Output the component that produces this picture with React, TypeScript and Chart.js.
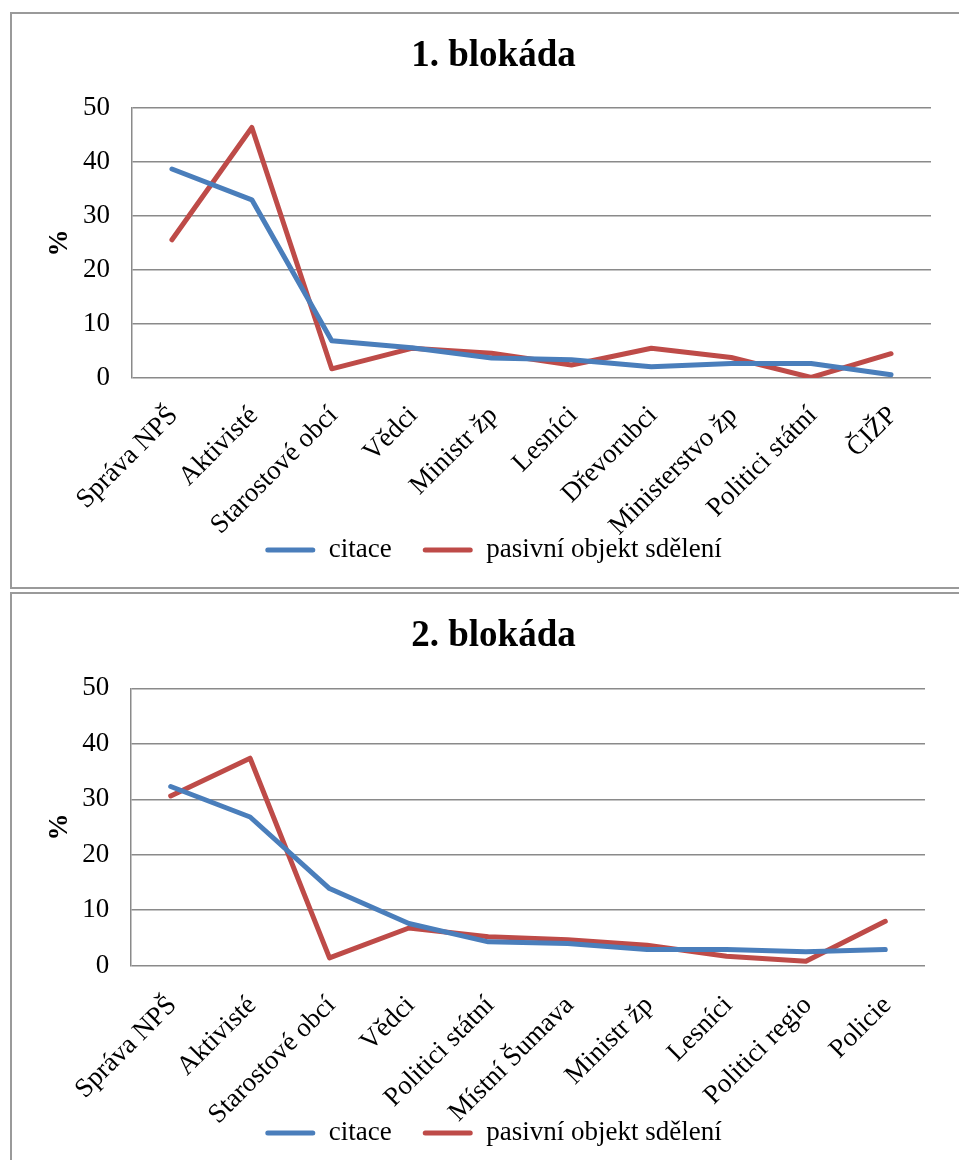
import React, { useEffect, useRef } from "react";
import { Chart, registerables } from "chart.js";

Chart.register(...registerables);

const categories1 = ["Správa NPŠ", "Aktivisté", "Starostové obcí", "Vědci", "Ministr žp", "Lesníci", "Dřevorubci", "Ministerstvo žp", "Politici státní", "ČIŽP"];
const citace1 = [38.7, 33.0, 6.9, 5.6, 3.7, 3.4, 2.1, 2.7, 2.7, 0.6];
const pasivni1 = [25.6, 46.4, 1.7, 5.5, 4.6, 2.4, 5.5, 3.8, 0.1, 4.5];

const categories2 = ["Správa NPŠ", "Aktivisté", "Starostové obcí", "Vědci", "Politici státní", "Místní Šumava", "Ministr žp", "Lesníci", "Politici regio", "Policie"];
const citace2 = [32.3, 26.8, 13.9, 7.6, 4.3, 4.0, 2.9, 2.9, 2.5, 2.9];
const pasivni2 = [30.6, 37.4, 1.4, 6.8, 5.2, 4.7, 3.7, 1.7, 0.8, 8.0];

const yTicks = [0, 10, 20, 30, 40, 50];
const seriesNames = ["citace", "pasivní objekt sdělení"];

const FONT = "'Liberation Serif', 'Times New Roman', serif";
const BLUE = "#4A7EBB";
const RED = "#BE4B48";
const GRID = "#8a8a8a";
const FS = 27;

type Layout = {
  width: number;
  height: number;
  padL: number;
  padR: number;
  padB: number;
  titlePadTop: number;
  titlePadBottom: number;
  yWidth: number;
  yTitlePad: number;
  yTickPad: number;
  xHeight: number;
  xPad: number;
  xOffset: number;
};

function makeConfig(title: string, cats: string[], a: number[], b: number[], L: Layout): any {
  const line = (label: string, data: number[], color: string) => ({
    label,
    data,
    borderColor: color,
    backgroundColor: color,
    borderWidth: 5,
    pointRadius: 0,
    pointHoverRadius: 0,
    tension: 0,
    borderCapStyle: "round",
    borderJoinStyle: "round",
  });
  return {
    type: "line",
    data: {
      labels: cats,
      datasets: [line(seriesNames[0], a, BLUE), line(seriesNames[1], b, RED)],
    },
    options: {
      animation: false,
      responsive: false,
      maintainAspectRatio: false,
      events: [],
      layout: { padding: { left: L.padL, right: L.padR, top: 0, bottom: L.padB } },
      plugins: {
        title: {
          display: true,
          text: title,
          color: "#000",
          font: { family: FONT, size: 37, weight: "bold", lineHeight: 1.2 },
          padding: { top: L.titlePadTop, bottom: L.titlePadBottom },
        },
        legend: {
          display: true,
          position: "bottom",
          labels: {
            boxWidth: 50,
            boxHeight: 5,
            padding: 31,
            color: "#000",
            font: { family: FONT, size: FS },
            generateLabels: (chart: any) =>
              Chart.defaults.plugins.legend.labels
                .generateLabels(chart)
                .map((l: any) => ({ ...l, lineWidth: 0, borderRadius: 2.5 })),
          },
        },
        tooltip: { enabled: false },
      },
      scales: {
        x: {
          offset: true,
          grid: { display: false, drawTicks: false },
          border: { display: false },
          ticks: {
            autoSkip: false,
            minRotation: 45,
            maxRotation: 45,
            padding: L.xPad,
            labelOffset: L.xOffset,
            color: "#000",
            font: { family: FONT, size: FS, lineHeight: 1.2 },
          },
          afterFit: (s: any) => {
            s.height = L.xHeight;
            s._computeLabelArea = () => undefined;
          },
        },
        y: {
          min: 0,
          max: 50,
          afterBuildTicks: (s: any) => {
            s.ticks = yTicks.map((v) => ({ value: v }));
          },
          grid: { color: GRID, lineWidth: 1.5, drawTicks: false },
          border: { display: true, color: GRID, width: 1.5 },
          ticks: {
            padding: L.yTickPad,
            color: "#000",
            font: { family: FONT, size: FS },
          },
          title: {
            display: true,
            text: "%",
            color: "#000",
            font: { family: FONT, size: FS, weight: "bold", lineHeight: 1.2 },
            padding: { top: L.yTitlePad, bottom: 0 },
          },
          afterFit: (s: any) => {
            s.width = L.yWidth;
          },
        },
      },
    },
  };
}

function ChartCanvas({ title, cats, a, b, L }: { title: string; cats: string[]; a: number[]; b: number[]; L: Layout }) {
  const ref = useRef<HTMLCanvasElement | null>(null);
  useEffect(() => {
    if (!ref.current) return;
    const chart = new Chart(ref.current, makeConfig(title, cats, a, b, L));
    return () => chart.destroy();
  }, []);
  return (
    <canvas
      ref={ref}
      width={L.width}
      height={L.height}
      style={{ position: "absolute", left: 0, top: 0, width: L.width, height: L.height, display: "block" }}
    />
  );
}

const layout1: Layout = {
  width: 947,
  height: 573,
  padL: 44,
  padR: 28,
  padB: 13.5,
  titlePadTop: 20,
  titlePadBottom: 29.6,
  yWidth: 76,
  yTitlePad: -12.2,
  yTickPad: 22,
  xHeight: 127.5,
  xPad: 22,
  xOffset: 2,
};

const layout2: Layout = {
  width: 947,
  height: 566,
  padL: 50,
  padR: 34,
  padB: 3.5,
  titlePadTop: 20,
  titlePadBottom: 29.9,
  yWidth: 69,
  yTitlePad: -18.2,
  yTickPad: 21.7,
  xHeight: 122.8,
  xPad: 24,
  xOffset: 2,
};

export default function App() {
  const boxStyle = (top: number, height: number): React.CSSProperties => ({
    position: "absolute",
    left: 10,
    top,
    width: 1000,
    height,
    border: "2px solid #9a9a9a",
    boxSizing: "border-box",
    background: "#fff",
  });
  return (
    <div style={{ position: "absolute", left: 0, top: 0, width: 959, height: 1160, overflow: "hidden", background: "#fff" }}>
      <div style={boxStyle(12, 577)}>
        <ChartCanvas title="1. blokáda" cats={categories1} a={citace1} b={pasivni1} L={layout1} />
      </div>
      <div style={boxStyle(592, 620)}>
        <ChartCanvas title="2. blokáda" cats={categories2} a={citace2} b={pasivni2} L={layout2} />
      </div>
    </div>
  );
}
